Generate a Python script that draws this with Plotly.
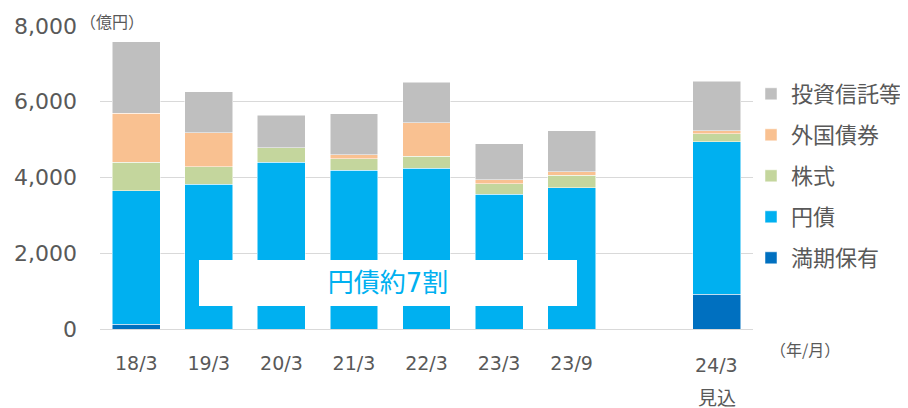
import plotly.graph_objects as go

categories = ["18/3", "19/3", "20/3", "21/3", "22/3", "23/3", "23/9", "gap", "24/3"]
tick_labels = ["18/3", "19/3", "20/3", "21/3", "22/3", "23/3", "23/9", "", ""]
last_label_lines = ["24/3", "見込"]

mature = [120, 0, 0, 0, 0, 0, 0, None, 920]
yen_bonds = [3530, 3820, 4400, 4190, 4240, 3560, 3730, None, 4020]
stocks = [750, 460, 380, 300, 320, 280, 330, None, 210]
foreign_bonds = [1290, 900, 0, 110, 880, 100, 90, None, 80]
funds = [1900, 1080, 860, 1080, 1070, 950, 1080, None, 1310]

series = [
    ("満期保有", mature, "#0070C0"),
    ("円債", yen_bonds, "#00B0F0"),
    ("株式", stocks, "#C4D69D"),
    ("外国債券", foreign_bonds, "#F9C191"),
    ("投資信託等", funds, "#BFBFBF"),
]

FONT = "DejaVu Sans, Noto Sans CJK JP, sans-serif"
CJK = "Noto Sans CJK JP, sans-serif"
TXT = "#595959"

# the page body adds an 8px offset, so the figure is drawn 8px smaller
OFF = 8
W, H = 908 - OFF, 408 - OFF
L, T = 100 - OFF, 26 - OFF
PLOT_R, PLOT_B = 753 - OFF, 329 - OFF
R, B = W - PLOT_R, H - PLOT_B
PW, PH = PLOT_R - L, PLOT_B - T


def px_x(px):
    return (px - OFF - L) / PW


def px_y(py):
    return (PLOT_B - (py - OFF)) / PH


fig = go.Figure()
n = len(series)
for i, (name, vals, color) in enumerate(series):
    fig.add_trace(go.Bar(
        x=categories, y=vals, name=name, legendgroup=name,
        legendrank=n - i,
        marker=dict(color=color, line=dict(color="white", width=0.5)),
    ))

fig.update_layout(
    width=W, height=H,
    margin=dict(l=L, r=R, t=T, b=B, autoexpand=False),
    barmode="stack", bargap=0.34,
    plot_bgcolor="white", paper_bgcolor="white",
    font=dict(family=FONT, color=TXT),
    showlegend=True,
    legend=dict(
        traceorder="grouped", tracegroupgap=9.4,
        x=px_x(751), xanchor="left", y=px_y(73), yanchor="top",
        font=dict(size=22, color=TXT, family=FONT),
        itemclick=False, bgcolor="rgba(0,0,0,0)",
    ),
    xaxis=dict(
        type="category", categoryorder="array", categoryarray=categories,
        tickvals=categories, ticktext=tick_labels,
        showgrid=False, showline=False, ticks="", automargin=False,
        tickfont=dict(size=19, color=TXT, family=FONT),
        ticklabelstandoff=21,
        range=[-0.5, len(categories) - 0.5],
    ),
    yaxis=dict(
        range=[0, 8000], tickvals=[0, 2000, 4000, 6000, 8000],
        tickformat=",d", automargin=False,
        showgrid=True, gridcolor="#D9D9D9", gridwidth=1,
        zeroline=True, zerolinecolor="#D9D9D9", zerolinewidth=1,
        showline=False, ticks="",
        tickfont=dict(size=22, color=TXT, family=FONT),
        ticklabelstandoff=22,
    ),
)

# white box with label over the bars
fig.add_annotation(
    x=3.476, y=1214, xref="x", yref="y",
    text="円債約7割", showarrow=False,
    font=dict(size=26, color="#00B0F0", family=FONT),
    bgcolor="white", width=378, height=46, borderpad=0, borderwidth=0,
)

# unit labels
fig.add_annotation(x=px_x(112), y=px_y(21), xref="paper", yref="paper",
                   xanchor="center", yanchor="middle",
                   text="（億円）", showarrow=False,
                   font=dict(size=16, color=TXT, family=CJK))
fig.add_annotation(x=px_x(805), y=px_y(349), xref="paper", yref="paper",
                   xanchor="center", yanchor="middle",
                   text="（年/月）", showarrow=False,
                   font=dict(size=16, color=TXT, family=CJK))

# two-line label of last category
fig.add_annotation(x=categories[-1], y=px_y(365), xref="x", yref="paper",
                   xanchor="center", yanchor="middle",
                   text=last_label_lines[0], showarrow=False,
                   font=dict(size=19, color=TXT, family=FONT))
fig.add_annotation(x=categories[-1], y=px_y(398), xref="x", yref="paper",
                   xanchor="center", yanchor="middle",
                   text=last_label_lines[1], showarrow=False,
                   font=dict(size=19, color=TXT, family=FONT))

fig.write_html("out.html")
